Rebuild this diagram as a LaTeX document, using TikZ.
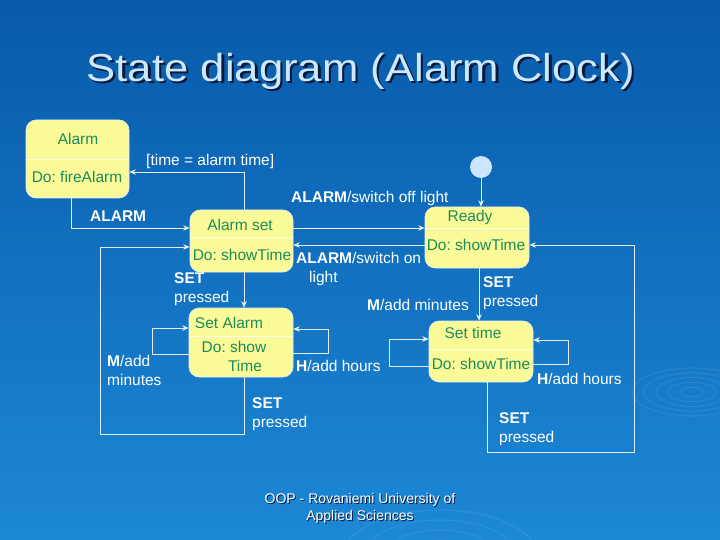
\documentclass[tikz,border=0pt]{standalone}
\usepackage{fontspec}
\setmainfont{Liberation Sans}
\usetikzlibrary{arrows.meta}
\definecolor{bgtop}{RGB}{8,90,170}
\definecolor{bgbot}{RGB}{28,136,214}
\definecolor{boxfill}{RGB}{250,250,152}
\definecolor{boxtext}{RGB}{28,140,92}
\definecolor{linecol}{RGB}{225,238,250}
\definecolor{titlecol}{RGB}{205,232,255}
\definecolor{shadowcol}{RGB}{10,25,60}
\definecolor{initcol}{RGB}{204,230,255}
\newcommand{\shadowtext}[3]{\makebox[0pt][l]{\hspace*{#1}\raisebox{-#1}{\textcolor{shadowcol}{#2}}}\textcolor{#3}{#2}}
\tikzset{
  state/.style={draw=linecol, line width=0.6pt, fill=boxfill, rounded corners=10pt, inner sep=0pt},
  intext/.style={text=boxtext, font=\fontsize{15.5}{18}\selectfont, inner sep=0pt},
  lbl/.style={text=white, font=\fontsize{15.5}{19}\selectfont, inner sep=0pt, anchor=west, align=left},
  conn/.style={draw=linecol, line width=0.8pt, -{Stealth[length=6.5pt,width=5.5pt]}},
  divider/.style={draw=white, line width=0.6pt, opacity=0.8},
  ripple/.style={draw=white, line width=1.2pt, opacity=0.08}
}
\begin{document}
\frenchspacing
\begin{tikzpicture}[x=1pt,y=-1pt]
\useasboundingbox (0,0) rectangle (720,540);
\shade[top color=bgtop, bottom color=bgbot] (0,0) rectangle (720,540);
% ripples
\foreach \r in {12,24,36,48,60}
  \draw[ripple] (692,392) ellipse ({\r pt} and {0.4*\r pt});
\foreach \r in {40,60,80,100}
  \draw[ripple] (440,560) ellipse ({\r pt} and {0.5*\r pt});
% title
\node[font=\fontsize{39}{44}\selectfont, xscale=1.12, inner sep=0pt] (title) at (361,72) {\shadowtext{2pt}{State diagram (Alarm Clock)}{titlecol}};
% states
\node[state, minimum width=103pt, minimum height=78pt] (alarm) at (77.5,159) {};
\node[state, minimum width=103pt, minimum height=62pt] (alarmset) at (241.5,241) {};
\node[state, minimum width=104pt, minimum height=61pt] (ready) at (477,237.5) {};
\node[state, minimum width=104pt, minimum height=69pt] (setalarm) at (241,342.5) {};
\node[state, minimum width=104pt, minimum height=61pt] (settime) at (481,351.5) {};
\fill[initcol] (481,167) circle (11pt);
\coordinate (init) at (481,167);
% dividers
\draw[divider] (alarm.west |- 0,159) -- (alarm.east |- 0,159);
\draw[divider] (alarmset.west |- 0,237) -- (alarmset.east |- 0,237);
\draw[divider] (ready.west |- 0,228) -- (ready.east |- 0,228);
\draw[divider] (setalarm.west |- 0,336) -- (setalarm.east |- 0,336);
\draw[divider] (settime.west |- 0,349) -- (settime.east |- 0,349);
% state texts
\node[intext] (t1) at (78,139) {Alarm};
\node[intext] (t2) at (77,177) {Do: fireAlarm};
\node[intext] (t3) at (240,225) {Alarm set};
\node[intext] (t4) at (242,255) {Do: showTime};
\node[intext] (t5) at (470,217) {Ready};
\node[intext] (t6) at (476,245) {Do: showTime};
\node[intext] (t7) at (229,323) {Set Alarm};
\node[intext] (t8) at (234,347) {Do: show};
\node[intext] (t9) at (245,366) {Time};
\node[intext] (t10) at (473,333) {Set time};
\node[intext] (t11) at (481,364) {Do: showTime};
% connectors
\draw[conn] (alarmset.north -| 244,0) -- (244,172) -- (alarm.east |- 0,172);
\draw[conn] (alarm.south -| 71,0) -- (71,228) -- (alarmset.west |- 0,228);
\draw[conn] (alarmset.east |- 0,228) -- (ready.west |- 0,228);
\draw[conn] (ready.west |- 0,245) -- (alarmset.east |- 0,245);
\draw[conn] (alarmset.south -| 244,0) -- (setalarm.north -| 244,0);
\draw[conn] (setalarm.west |- 0,354) -- (152,354) -- (152,328) -- (setalarm.west |- 0,328);
\draw[conn] (setalarm.east |- 0,353) -- (328,353) -- (328,329) -- (setalarm.east |- 0,329);
\draw[conn] (setalarm.south -| 244,0) -- (244,434) -- (100,434) -- (100,247) -- (alarmset.west |- 0,247);
\draw[conn] (init) ++(0,11) -- (ready.north -| 481,0);
\draw[conn] (ready.south -| 479,0) -- (settime.north -| 479,0);
\draw[conn] (settime.west |- 0,366) -- (389,366) -- (389,339) -- (settime.west |- 0,339);
\draw[conn] (settime.east |- 0,364) -- (568,364) -- (568,340) -- (settime.east |- 0,340);
\draw[conn] (settime.south -| 487,0) -- (487,452) -- (634,452) -- (634,245) -- (ready.east |- 0,245);
% labels
\node[lbl] (l1) at (146,161) {[time = alarm time]};
\node[lbl] (l2) at (90,216) {\textbf{ALARM}};
\node[lbl] (l3) at (291,198) {\textbf{ALARM}/switch off light};
\node[lbl, anchor=north west] (l4) at (296,252) {\textbf{ALARM}/switch on\\\hspace*{13pt}light};
\node[lbl, anchor=north west] (l5) at (174,272) {\textbf{SET}\\pressed};
\node[lbl, anchor=north west] (l6) at (107,355) {\textbf{M}/add\\minutes};
\node[lbl] (l7) at (296,366) {\textbf{H}/add hours};
\node[lbl, anchor=north west] (l8) at (252,397) {\textbf{SET}\\pressed};
\node[lbl, anchor=north west] (l9) at (483,276) {\textbf{SET}\\pressed};
\node[lbl] (l10) at (367,305) {\textbf{M}/add minutes};
\node[lbl] (l11) at (537,379) {\textbf{H}/add hours};
\node[lbl, anchor=north west] (l12) at (499,412) {\textbf{SET}\\pressed};
% footer
\node[font=\fontsize{14}{17}\selectfont, align=center, inner sep=0pt] (foot) at (360,509) {\shadowtext{1pt}{OOP - Rovaniemi University of}{white}\\\shadowtext{1pt}{Applied Sciences}{white}};
\end{tikzpicture}
\end{document}
